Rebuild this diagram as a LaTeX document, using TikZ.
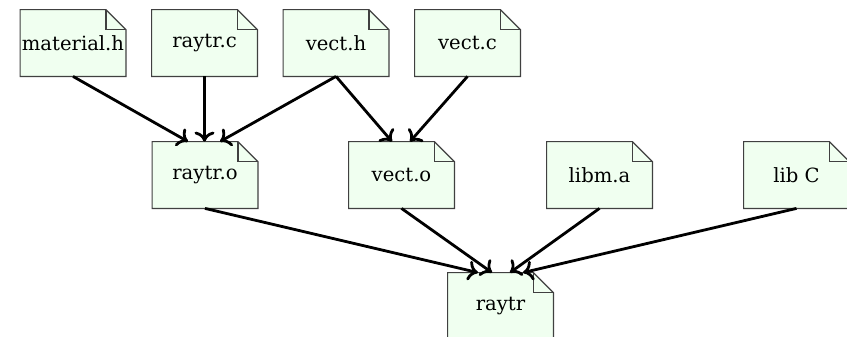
\documentclass[tikz,border=0pt]{standalone}
\usepackage{fontspec}
\setmainfont{DejaVu Serif}
\usetikzlibrary{arrows.meta,backgrounds}
\definecolor{filefill}{HTML}{F0FFF0}
\definecolor{fileline}{HTML}{404040}
\tikzset{
  filenode/.style={rectangle, minimum width=52.5pt, minimum height=33pt, inner sep=0pt, font=\fontsize{9.8}{12}\selectfont},
  dep/.style={line width=1.4pt, -{To[length=5pt,width=10pt]}},
}
\newcommand\fileshape[1]{%
  \begin{pgfonlayer}{background}
  \fill[filefill] (#1.south west) -- (#1.north west) -- ([xshift=-10pt]#1.north east) -- ([yshift=-10pt]#1.north east) -- (#1.south east) -- cycle;
  \draw[fileline, line width=0.6pt] (#1.south west) -- (#1.north west) -- ([xshift=-10pt]#1.north east) -- ([yshift=-10pt]#1.north east) -- (#1.south east) -- cycle;
  \draw[fileline, line width=0.6pt] ([xshift=-10pt]#1.north east) |- ([yshift=-10pt]#1.north east);
  \end{pgfonlayer}}
\begin{document}
\begin{tikzpicture}[x=0.5pt,y=-0.5pt]
\useasboundingbox (0,0) rectangle (847,337);
\node[filenode] (mat) at (73,43) {material.h};
\node[filenode] (rc) at (204.5,43) {raytr.c};
\node[filenode] (vh) at (336,43) {vect.h};
\node[filenode] (vc) at (467.5,43) {vect.c};
\node[filenode] (ro) at (205,175) {raytr.o};
\node[filenode] (vo) at (401.5,175) {vect.o};
\node[filenode] (libm) at (599.5,175) {libm.a};
\node[filenode] (libc) at (796.5,175) {lib C};
\node[filenode] (rt) at (500.5,306) {raytr};
\fileshape{mat}\fileshape{rc}\fileshape{vh}\fileshape{vc}
\fileshape{ro}\fileshape{vo}\fileshape{libm}\fileshape{libc}\fileshape{rt}
\draw[dep] (mat.south) -- ([xshift=-8.5pt]ro.north);
\draw[dep] (rc.south) -- (rc.south |- ro.north);
\draw[dep] (vh.south) -- ([xshift=7.5pt]ro.north);
\draw[dep] (vh.south) -- ([xshift=-4.75pt]vo.north);
\draw[dep] (vc.south) -- ([xshift=4.25pt]vo.north);
\draw[dep] (ro.south) -- ([xshift=-11.25pt]rt.north);
\draw[dep] (vo.south) -- ([xshift=-4.25pt]rt.north);
\draw[dep] (libm.south) -- ([xshift=4.75pt]rt.north);
\draw[dep] (libc.south) -- ([xshift=11.25pt]rt.north);
\end{tikzpicture}
\end{document}
